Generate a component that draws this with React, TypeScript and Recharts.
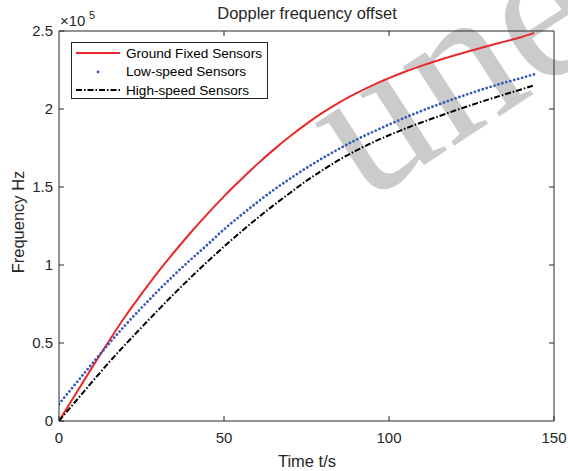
import React from 'react';
import { LineChart, Line, XAxis, YAxis, Legend, Customized, ReferenceLine } from 'recharts';

// ---- data (time in s, frequency in Hz) ----
const times = [0, 5, 10, 15, 20, 25, 30, 35, 40, 45, 50, 55, 60, 65, 70, 75, 80, 85, 90, 95, 100, 105, 110, 115, 120, 125, 130, 135, 140, 144];
const groundFixedHz = [0, 17200, 34200, 50800, 66800, 81500, 95500, 108500, 121000, 132800, 144000, 154500, 164500, 173800, 182500, 190500, 197800, 204300, 210000, 215200, 219800, 224000, 227800, 231300, 234500, 237500, 240400, 243200, 246000, 248800];
const lowSpeedHz = [10900, 23800, 36600, 49200, 61200, 72500, 83400, 93800, 103600, 113000, 122800, 131600, 140000, 148000, 155300, 162200, 168600, 174600, 180200, 185200, 190000, 194600, 198900, 202900, 206700, 210300, 213700, 216900, 219800, 222200];
const highSpeedHz = [0, 12500, 25000, 37200, 48800, 60000, 71000, 81800, 92200, 102200, 111800, 121000, 129800, 138200, 146200, 154000, 161000, 167500, 173300, 178500, 183200, 187500, 191500, 195300, 199000, 202600, 206000, 209300, 212500, 215200];

const seriesNames = ['Ground Fixed Sensors', 'Low-speed Sensors', 'High-speed Sensors'];
const xDomain = [0, 150];
const yDomain = [0, 250000];
const xTicks = [0, 50, 100, 150];
const yTicks = [0, 50000, 100000, 150000, 200000, 250000];
const titleText = 'Doppler frequency offset';
const xLabelText = 'Time t/s';
const yLabelText = 'Frequency Hz';
const watermarkText = 'une';

const data = times.map((t, i) => ({
  t,
  ground: groundFixedHz[i],
  low: lowSpeedHz[i],
  high: highSpeedHz[i],
}));

const FONT = '"Liberation Sans", Arial, Helvetica, sans-serif';
const AXIS = '#262626';
const RED = '#e8292b';
const BLUE = '#3358b8';
const BLACK = '#000000';
const DASHDOT = '6 2 1.5 2';

// plot box size in px, used only to express the 5px mirrored tick length in data units
const PLOT_W = 495;
const PLOT_H = 390;
const TICK_PX = 5;
const xTickLen = (TICK_PX / PLOT_W) * (xDomain[1] - xDomain[0]);
const yTickLen = (TICK_PX / PLOT_H) * (yDomain[1] - yDomain[0]);

const LegendBox = () => (
  <div
    style={{
      width: 197,
      height: 57,
      border: '1px solid #262626',
      boxSizing: 'border-box',
      background: '#fff',
      fontFamily: FONT,
      fontSize: 13.6,
      color: '#000',
      position: 'relative',
    }}
  >
    {seriesNames.map((name, i) => (
      <div
        key={name}
        style={{
          position: 'absolute',
          left: 0,
          top: 0.8 + i * 18.5,
          height: 18.5,
          display: 'flex',
          alignItems: 'center',
          whiteSpace: 'nowrap',
        }}
      >
        <svg width={54} height={18} style={{ display: 'block' }}>
          {i === 0 && <line x1={4} x2={48} y1={9} y2={9} stroke={RED} strokeWidth={2} />}
          {i === 1 && <circle cx={26} cy={9} r={1.4} fill={BLUE} />}
          {i === 2 && (
            <line x1={4} x2={48} y1={9} y2={9} stroke={BLACK} strokeWidth={2} strokeDasharray={DASHDOT} />
          )}
        </svg>
        <span>{name}</span>
      </div>
    ))}
  </div>
);

const Texts = () => (
  <g fontFamily={FONT} fill={AXIS}>
    <text x={307} y={19} textAnchor="middle" fontSize={16.5}>
      {titleText}
    </text>
    <text x={307} y={467} textAnchor="middle" fontSize={16.5}>
      {xLabelText}
    </text>
    <text x={0} y={0} transform="translate(24,222) rotate(-90)" textAnchor="middle" fontSize={16.5}>
      {yLabelText}
    </text>
    <text x={60} y={26} fontSize={15}>
      ×10
    </text>
    <text x={89} y={19} fontSize={11}>
      5
    </text>
  </g>
);

export default function App() {
  return (
    <div style={{ position: 'absolute', left: 0, top: 0, width: 568, height: 471, background: '#fff', overflow: 'hidden' }}>
      <svg width={568} height={471} style={{ position: 'absolute', left: 0, top: 0 }}>
        <text
          x={0}
          y={0}
          transform="translate(364,204) rotate(-33)"
          fontFamily='"Liberation Serif", "DejaVu Serif", serif'
          fontSize={205}
          fill="#cbcbcb"
        >
          {watermarkText}
        </text>
      </svg>
      <div style={{ position: 'absolute', left: 0, top: 0 }}>
        <LineChart width={568} height={471} data={data} margin={{ top: 31, right: 14, bottom: 0, left: 0 }}>
          <XAxis
            dataKey="t"
            type="number"
            domain={xDomain}
            ticks={xTicks}
            height={50}
            stroke={AXIS}
            tickSize={-5}
            tickMargin={16}
            tick={{ fill: AXIS, fontSize: 15, fontFamily: FONT }}
            allowDataOverflow
          />
          <YAxis
            type="number"
            domain={yDomain}
            ticks={yTicks}
            width={59}
            stroke={AXIS}
            tickSize={-5}
            tickMargin={11}
            tickFormatter={(v) => String(v / 100000)}
            tick={{ fill: AXIS, fontSize: 15, fontFamily: FONT }}
            allowDataOverflow
          />
          {/* box frame: top and right edges */}
          <ReferenceLine y={yDomain[1]} stroke={AXIS} strokeWidth={1} ifOverflow="visible" />
          <ReferenceLine x={xDomain[1]} stroke={AXIS} strokeWidth={1} ifOverflow="visible" />
          {/* mirrored inward ticks on top and right edges */}
          {xTicks.slice(1, -1).map((tx) => (
            <ReferenceLine
              key={'tt' + tx}
              segment={[
                { x: tx, y: yDomain[1] },
                { x: tx, y: yDomain[1] - yTickLen },
              ]}
              stroke={AXIS}
              ifOverflow="visible"
            />
          ))}
          {yTicks.slice(1, -1).map((ty) => (
            <ReferenceLine
              key={'rt' + ty}
              segment={[
                { x: xDomain[1], y: ty },
                { x: xDomain[1] - xTickLen, y: ty },
              ]}
              stroke={AXIS}
              ifOverflow="visible"
            />
          ))}
          <Line
            dataKey="ground"
            name={seriesNames[0]}
            stroke={RED}
            strokeWidth={2}
            dot={false}
            type="monotone"
            isAnimationActive={false}
          />
          <Line
            dataKey="low"
            name={seriesNames[1]}
            stroke={BLUE}
            strokeWidth={2.8}
            strokeLinecap="round"
            strokeDasharray="0 4.1"
            dot={false}
            type="monotone"
            isAnimationActive={false}
          />
          <Line
            dataKey="high"
            name={seriesNames[2]}
            stroke={BLACK}
            strokeWidth={2}
            strokeDasharray={DASHDOT}
            dot={false}
            type="monotone"
            isAnimationActive={false}
          />
          <Legend
            layout="vertical"
            align="center"
            verticalAlign="middle"
            content={<LegendBox />}
            wrapperStyle={{ position: 'absolute', left: 71, top: 42, width: 197, height: 57 }}
          />
          <Customized component={Texts} />
        </LineChart>
      </div>
    </div>
  );
}
